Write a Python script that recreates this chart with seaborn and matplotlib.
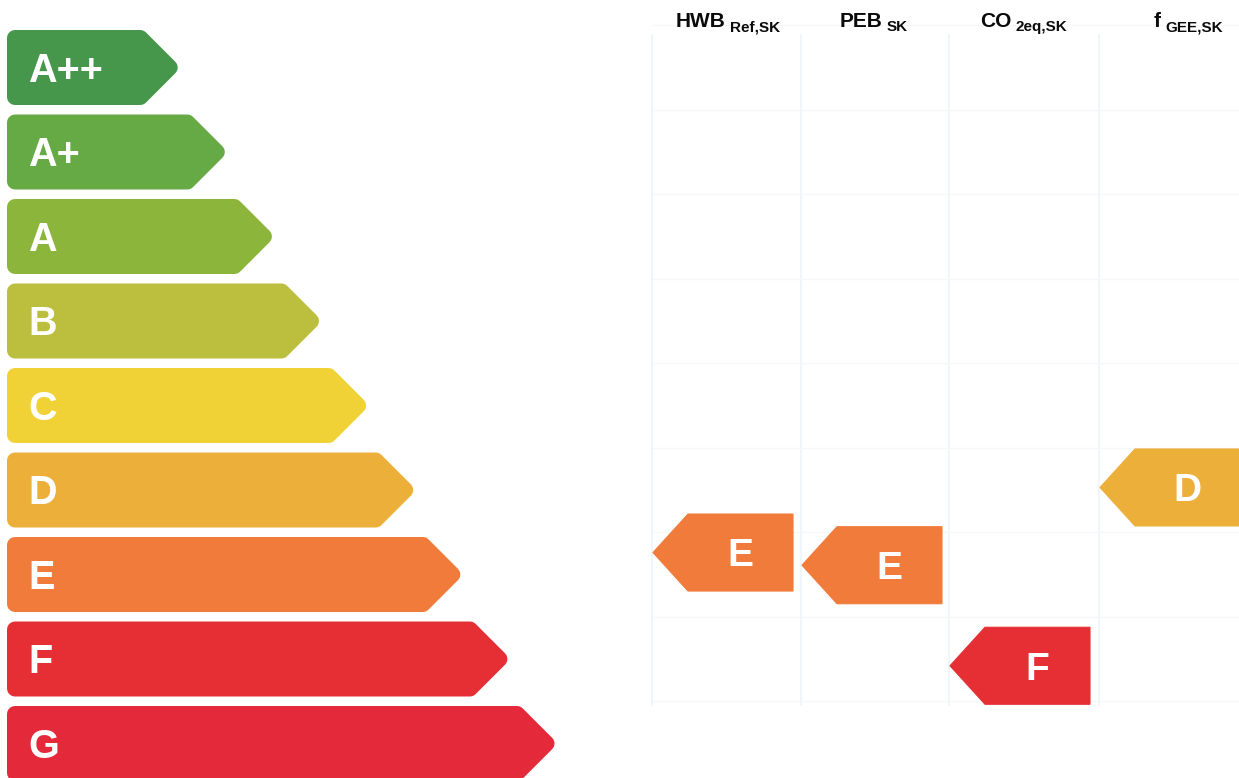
import matplotlib
matplotlib.use("Agg")
import matplotlib.pyplot as plt
from matplotlib.patches import Polygon
from matplotlib.transforms import ScaledTranslation
import seaborn as sns

# == DATA ==
classes = ["A++", "A+", "A", "B", "C", "D", "E", "F", "G"]
class_colors = ["#46964b", "#66aa46", "#8cb53c", "#bcbe3e", "#f1d236",
                "#ecb03a", "#f07b3a", "#e52f34", "#e4293a"]

indicator_names = ["HWB", "PEB", "CO", "f"]
indicator_subs = ["Ref,SK", "SK", "2eq,SK", "GEE,SK"]
indicator_class = ["E", "E", "F", "D"]
# position on the class scale (0 = A++ row centre, 1 row per class)
indicator_pos = [5.74, 5.89, 7.08, 4.97]

# == LAYOUT ==
W, H = 1239, 778
pitch = 84.5          # px per class row
row0_px = 67.5        # px centre of first row
bar_left = 7
tip_base, tip_step = 181, 47.1
bar_half_px = 37.5
corner_px = 8
col_left = [653, 802, 950, 1100]
ind_width = 140
ind_tip = 35
ind_half_px = 38.5
header_x = [676, 840, 980, 1154]
header_base_px = 27


def px_to_row(y):
    return (y - row0_px) / pitch


def main() -> None:
    sns.set_theme(style="white")
    plt.rcParams["font.family"] = ["Liberation Sans", "DejaVu Sans"]
    palette = dict(zip(classes, sns.color_palette(class_colors)))

    fig = plt.figure(figsize=(W / 100, H / 100), dpi=100)
    ax = fig.add_axes([0, 0, 1, 1])
    ax.set_xlim(0, W)
    ax.set_ylim(px_to_row(H), px_to_row(0))
    ax.axis("off")

    # faint form grid behind the indicator columns (barely visible on the scan)
    for x in [c - 1 for c in col_left]:
        ax.plot([x, x], [px_to_row(35), px_to_row(705)], color="#eef4f9", lw=1.3, zorder=0)
    for i in range(len(classes)):
        ax.plot([652, W], [i - 0.5, i - 0.5], color="#f5f8fb", lw=1.0, zorder=0)

    # energy class bars (rounded through a thick stroke with round joins)
    h_in = (bar_half_px - corner_px) / pitch
    cap_fs = 28.5
    shift = ScaledTranslation(0, -cap_fs * 0.716 / 2 / 72, fig.dpi_scale_trans)
    for i, cls in enumerate(classes):
        tip = tip_base + tip_step * i
        x0 = bar_left + corner_px
        xt = tip - corner_px * 1.41
        xs = xt - (bar_half_px - corner_px)
        pts = [(x0, i - h_in), (xs, i - h_in), (xt, i), (xs, i + h_in), (x0, i + h_in)]
        col = palette[cls]
        ax.add_patch(Polygon(pts, closed=True, facecolor=col, edgecolor=col,
                             lw=corner_px * 2 * 0.72, joinstyle="round", zorder=2))
        ax.text(28, i, cls, color="white", fontsize=cap_fs, fontweight="bold",
                va="baseline", ha="left", transform=ax.transData + shift, zorder=3)

    # indicator arrows
    ih = ind_half_px / pitch
    ind_fs = 28
    shift2 = ScaledTranslation(0, -ind_fs * 0.716 / 2 / 72, fig.dpi_scale_trans)
    for k, name in enumerate(indicator_names):
        c = indicator_pos[k]
        x_tip = col_left[k]
        x_sh = x_tip + ind_tip
        x_r = x_tip + ind_width
        pts = [(x_tip, c), (x_sh, c - ih), (x_r, c - ih), (x_r, c + ih), (x_sh, c + ih)]
        col = palette[indicator_class[k]]
        ax.add_patch(Polygon(pts, closed=True, facecolor=col, edgecolor=col,
                             lw=0.8, zorder=2))
        ax.text((x_sh + x_r) / 2, c, indicator_class[k], color="white", fontsize=ind_fs,
                fontweight="bold", ha="center", va="baseline",
                transform=ax.transData + shift2, zorder=3)

        # column header with subscript
        main_txt = fig.text(header_x[k] / W, 1 - header_base_px / H, name,
                            fontsize=15, fontweight="bold", color="#0a0a0a",
                            ha="left", va="baseline")
        ax.annotate(indicator_subs[k], xy=(1, 0), xycoords=main_txt,
                    xytext=(3, 0), textcoords="offset points",
                    fontsize=11, fontweight="bold", color="#0a0a0a",
                    ha="left", va="baseline", annotation_clip=False)

    fig.savefig("out.png", dpi=100)
    plt.close(fig)


if __name__ == "__main__":
    main()
